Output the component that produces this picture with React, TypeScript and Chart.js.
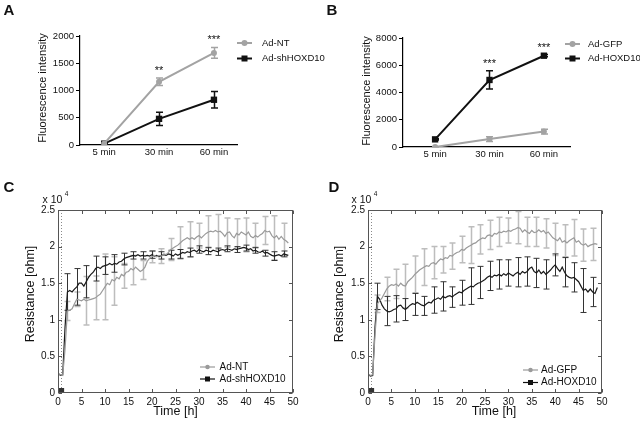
import React, { useEffect, useRef } from "react";
import { Chart, registerables } from "chart.js";

Chart.register(...registerables);

const FAMILY = "'Liberation Sans', Arial, Helvetica, sans-serif";
Chart.defaults.font.family = FAMILY;
Chart.defaults.color = "#111";

// ---------------- Panel A / B data ----------------
const CATEGORIES = ["5 min", "30 min", "60 min"];
const A_NT = [25, 1160, 1690];
const A_NT_ERR = [10, 70, 100];
const A_SH = [25, 480, 830];
const A_SH_ERR = [10, 120, 150];
const A_STARS = ["", "**", "***"];

const B_GFP = [0, 580, 1130];
const B_GFP_ERR = [20, 170, 170];
const B_HOX = [560, 4920, 6700];
const B_HOX_ERR = [40, 670, 80];
const B_STARS = ["", "***", "***"];

// ---------------- Panel C / D data (x 10^4 ohm) ----------------
const TIME_H = [
  0, 0.5, 1, 1.5, 2, 2.5, 3, 3.5, 4, 4.5,
  5, 5.5, 6, 6.5, 7, 7.5, 8, 8.5, 9, 9.5,
  10, 10.5, 11, 11.5, 12, 12.5, 13, 13.5, 14, 14.5,
  15, 15.5, 16, 16.5, 17, 17.5, 18, 18.5, 19, 19.5,
  20, 20.5, 21, 21.5, 22, 22.5, 23, 23.5, 24, 24.5,
  25, 25.5, 26, 26.5, 27, 27.5, 28, 28.5, 29, 29.5,
  30, 30.5, 31, 31.5, 32, 32.5, 33, 33.5, 34, 34.5,
  35, 35.5, 36, 36.5, 37, 37.5, 38, 38.5, 39, 39.5,
  40, 40.5, 41, 41.5, 42, 42.5, 43, 43.5, 44, 44.5,
  45, 45.5, 46, 46.5, 47, 47.5, 48, 48.5, 49,
];

const C_NT = [
  0.27, 0.25, 0.24, 0.6, 1.12, 1.13, 1.15, 1.22, 1.28, 1.27,
  1.26, 1.28, 1.26, 1.27, 1.28, 1.29, 1.3, 1.33, 1.35, 1.4,
  1.45, 1.5, 1.48, 1.55, 1.53, 1.58, 1.56, 1.62, 1.6, 1.65,
  1.66, 1.7, 1.68, 1.72, 1.69, 1.66, 1.68, 1.72, 1.8, 1.84,
  1.86, 1.88, 1.86, 1.88, 1.87, 1.9, 1.89, 1.92, 1.96, 1.98,
  2.0, 2.02, 2.05, 2.08, 2.1, 2.12, 2.1, 2.12, 2.1, 2.13,
  2.15, 2.12, 2.15, 2.18, 2.2, 2.21, 2.2, 2.22, 2.2, 2.21,
  2.18, 2.14, 2.19, 2.2, 2.15, 2.12, 2.18, 2.16, 2.2, 2.18,
  2.16, 2.2, 2.14, 2.12, 2.15, 2.13, 2.16, 2.18, 2.22, 2.2,
  2.21, 2.15, 2.12, 2.15, 2.1, 2.14, 2.1, 2.08, 2.05,
];

const C_SH = [
  0.27, 0.24, 0.25, 0.9, 1.38, 1.4, 1.38, 1.42, 1.45, 1.5,
  1.5, 1.46, 1.52, 1.58, 1.62, 1.65, 1.7, 1.72, 1.7, 1.73,
  1.74, 1.75, 1.77, 1.75, 1.77, 1.76, 1.79, 1.8, 1.83, 1.85,
  1.86, 1.87, 1.88, 1.87, 1.89, 1.87, 1.88, 1.87, 1.88, 1.87,
  1.89, 1.87, 1.88, 1.86, 1.88, 1.89, 1.88, 1.9, 1.89, 1.87,
  1.9, 1.88, 1.9, 1.92, 1.91, 1.93, 1.92, 1.94, 1.95, 1.93,
  1.96, 1.94, 1.93, 1.95, 1.94, 1.93, 1.95, 1.94, 1.93, 1.95,
  1.96, 1.95, 1.97, 1.96, 1.95, 1.97, 1.96, 1.97, 1.98, 1.99,
  1.98, 1.96, 1.97, 1.94, 1.95, 1.93, 1.92, 1.94, 1.91, 1.92,
  1.9, 1.88, 1.87, 1.88, 1.89, 1.87, 1.9, 1.89, 1.88,
];

const D_GFP = [
  0.26, 0.24, 0.25, 0.8, 1.22, 1.26, 1.3, 1.36, 1.42, 1.46,
  1.48, 1.47, 1.49, 1.46, 1.5, 1.47, 1.46, 1.52, 1.55, 1.58,
  1.62, 1.65, 1.68, 1.7, 1.72, 1.74, 1.73, 1.77, 1.78, 1.76,
  1.8, 1.83, 1.82, 1.85, 1.84, 1.88, 1.87, 1.9, 1.92, 1.93,
  1.96, 1.95, 1.98, 2.0, 2.02, 2.04, 2.05, 2.08, 2.1, 2.12,
  2.11, 2.15, 2.16, 2.14, 2.18, 2.17, 2.2, 2.19, 2.21, 2.2,
  2.22, 2.21, 2.23, 2.24, 2.26, 2.25, 2.2, 2.23, 2.2, 2.18,
  2.22, 2.19, 2.2, 2.23, 2.2, 2.22, 2.18, 2.2, 2.16, 2.12,
  2.1, 2.08, 2.12, 2.06, 2.08, 2.05, 2.08, 2.1, 2.12, 2.06,
  2.08, 2.04, 2.02, 2.04, 2.0, 2.02, 2.03, 2.04, 2.03,
];

const D_HOX = [
  0.26, 0.23, 0.24, 0.9, 1.32, 1.28, 1.2, 1.15, 1.12, 1.11,
  1.12, 1.14, 1.15, 1.19, 1.2, 1.16, 1.14, 1.17, 1.2, 1.22,
  1.21, 1.24, 1.22, 1.2, 1.19, 1.22, 1.24, 1.23, 1.27, 1.28,
  1.3, 1.28, 1.32, 1.3, 1.32, 1.33, 1.31, 1.34, 1.36, 1.38,
  1.37, 1.4, 1.42, 1.44, 1.46, 1.45, 1.48, 1.5, 1.51, 1.53,
  1.55, 1.58, 1.6, 1.58, 1.61, 1.6, 1.62, 1.6, 1.63, 1.61,
  1.64, 1.62, 1.6, 1.63, 1.65, 1.62, 1.66, 1.64, 1.66, 1.7,
  1.72, 1.66, 1.64, 1.68, 1.63, 1.66, 1.62, 1.65, 1.68, 1.72,
  1.75, 1.7, 1.66, 1.72, 1.65, 1.6, 1.58, 1.57, 1.58, 1.55,
  1.52, 1.46, 1.4, 1.42, 1.38, 1.42, 1.38, 1.36, 1.44,
];

const ERR_TIME_H = [2, 4, 6, 8, 10, 12, 14, 16, 18, 20, 22, 24, 26, 28, 30, 32, 34, 36, 38, 40, 42, 44, 46, 48];
const C_NT_ERR = [0.13, 0.1, 0.33, 0.3, 0.45, 0.33, 0.17, 0.2, 0.13, 0.08, 0.1, 0.15, 0.22, 0.24, 0.17, 0.22, 0.24, 0.2, 0.2, 0.23, 0.17, 0.19, 0.3, 0.22];
const C_SH_ERR = [0.25, 0.25, 0.22, 0.17, 0.12, 0.12, 0.08, 0.05, 0.05, 0.05, 0.05, 0.06, 0.06, 0.06, 0.05, 0.05, 0.05, 0.04, 0.04, 0.04, 0.04, 0.04, 0.06, 0.04];
const D_GFP_ERR = [0.12, 0.16, 0.2, 0.3, 0.25, 0.25, 0.22, 0.18, 0.18, 0.18, 0.25, 0.2, 0.2, 0.2, 0.17, 0.22, 0.2, 0.2, 0.2, 0.22, 0.22, 0.25, 0.22, 0.22];
const D_HOX_ERR = [0.18, 0.2, 0.18, 0.15, 0.15, 0.13, 0.18, 0.2, 0.14, 0.17, 0.25, 0.22, 0.2, 0.2, 0.18, 0.2, 0.2, 0.2, 0.2, 0.15, 0.2, 0.2, 0.3, 0.2];

const START_MARK = { x: 0.55, y: 0.02 };
const START_LINE_H = 0.6;

// ---------------- helpers ----------------
const catPoints = (vals: number[]) => vals.map((v, i) => ({ x: i, y: v }));
const timePoints = (vals: number[]) => vals.map((v, i) => ({ x: TIME_H[i], y: v }));
const f = (size: number, bold = false) => `${bold ? "bold " : ""}${size}px ${FAMILY}`;

const errorBarPlugin = {
  id: "errorBars",
  beforeDatasetsDraw(chart: any) {
    const { ctx } = chart;
    const xs = chart.scales.x;
    const ys = chart.scales.y;
    chart.data.datasets.forEach((ds: any) => {
      const eb = ds.errorBars;
      if (!eb) return;
      ctx.save();
      ctx.strokeStyle = eb.color;
      ctx.lineWidth = eb.width;
      eb.at.forEach((xv: number, k: number) => {
        const p = ds.data.find((d: any) => d.x === xv);
        if (!p) return;
        const e = eb.err[k];
        const px = Math.round(xs.getPixelForValue(xv)) + 0.5;
        const t = ys.getPixelForValue(p.y + e);
        const b = ys.getPixelForValue(Math.max(p.y - e, ys.min));
        ctx.beginPath();
        ctx.moveTo(px, t);
        ctx.lineTo(px, b);
        ctx.moveTo(px - eb.cap, t);
        ctx.lineTo(px + eb.cap, t);
        ctx.moveTo(px - eb.cap, b);
        ctx.lineTo(px + eb.cap, b);
        ctx.stroke();
      });
      ctx.restore();
    });
  },
};

type TextItem = { text: string; x: number; y: number; font: string; rotate?: boolean; align?: CanvasTextAlign };
type LegendItem = { label: string; color: string; marker: "circle" | "square"; y: number; size: number; lw: number };
type Decor = {
  texts: TextItem[];
  legend: { items: LegendItem[]; x0: number; x1: number; textX: number; font: string };
  box?: boolean;
  dottedAt?: number;
  stars?: { labels: string[]; font: string; gap: number };
};

function decorPlugin(cfg: Decor) {
  return {
    id: "decor",
    beforeDatasetsDraw(chart: any) {
      if (cfg.dottedAt === undefined) return;
      const { ctx, chartArea: ca } = chart;
      const px = Math.round(chart.scales.x.getPixelForValue(cfg.dottedAt)) + 0.5;
      ctx.save();
      ctx.strokeStyle = "#8a8a8a";
      ctx.lineWidth = 1;
      ctx.setLineDash([1, 2]);
      ctx.beginPath();
      ctx.moveTo(px, ca.top);
      ctx.lineTo(px, ca.bottom);
      ctx.stroke();
      ctx.restore();
    },
    afterDraw(chart: any) {
      const { ctx, chartArea: ca } = chart;
      ctx.save();
      if (cfg.box) {
        const l = Math.round(ca.left) + 0.5;
        const r = Math.round(ca.right) - 0.5;
        const t = Math.round(ca.top) + 0.5;
        const b = Math.round(ca.bottom) - 0.5;
        ctx.strokeStyle = "#555";
        ctx.lineWidth = 1;
        ctx.strokeRect(l, t, r - l, b - t);
        const tl = 3.5;
        ctx.beginPath();
        chart.scales.x.ticks.forEach((tk: any) => {
          const px = Math.round(chart.scales.x.getPixelForValue(tk.value)) + 0.5;
          ctx.moveTo(px, b);
          ctx.lineTo(px, b - tl);
          ctx.moveTo(px, t);
          ctx.lineTo(px, t + tl);
        });
        chart.scales.y.ticks.forEach((tk: any) => {
          const py = Math.round(chart.scales.y.getPixelForValue(tk.value)) + 0.5;
          ctx.moveTo(l, py);
          ctx.lineTo(l + tl, py);
          ctx.moveTo(r, py);
          ctx.lineTo(r - tl, py);
        });
        ctx.stroke();
      }
      // stars
      if (cfg.stars) {
        const xs = chart.scales.x;
        const ys = chart.scales.y;
        ctx.font = cfg.stars.font;
        ctx.fillStyle = "#111";
        ctx.textAlign = "center";
        ctx.textBaseline = "alphabetic";
        cfg.stars.labels.forEach((s, i) => {
          if (!s) return;
          let top = -Infinity;
          chart.data.datasets.forEach((ds: any) => {
            const eb = ds.errorBars;
            const p = ds.data.find((d: any) => d.x === i);
            if (!p) return;
            const k = eb ? eb.at.indexOf(i) : -1;
            top = Math.max(top, p.y + (k >= 0 ? eb.err[k] : 0));
          });
          ctx.fillText(s, xs.getPixelForValue(i), ys.getPixelForValue(top) - cfg.stars!.gap);
        });
      }
      // texts
      cfg.texts.forEach((t) => {
        ctx.save();
        ctx.font = t.font;
        ctx.fillStyle = "#111";
        ctx.textAlign = t.align || "center";
        ctx.textBaseline = "middle";
        if (t.rotate) {
          ctx.translate(t.x, t.y);
          ctx.rotate(-Math.PI / 2);
          ctx.fillText(t.text, 0, 0);
        } else {
          ctx.fillText(t.text, t.x, t.y);
        }
        ctx.restore();
      });
      // legend
      const lg = cfg.legend;
      lg.items.forEach((it) => {
        ctx.strokeStyle = it.color;
        ctx.fillStyle = it.color;
        ctx.lineWidth = it.lw;
        ctx.beginPath();
        ctx.moveTo(lg.x0, it.y);
        ctx.lineTo(lg.x1, it.y);
        ctx.stroke();
        const cx = (lg.x0 + lg.x1) / 2;
        ctx.beginPath();
        if (it.marker === "circle") {
          ctx.arc(cx, it.y, it.size / 2, 0, Math.PI * 2);
        } else {
          ctx.rect(cx - it.size / 2, it.y - it.size / 2, it.size, it.size);
        }
        ctx.fill();
        ctx.font = lg.font;
        ctx.fillStyle = "#111";
        ctx.textAlign = "left";
        ctx.textBaseline = "middle";
        ctx.fillText(it.label, lg.textX, it.y);
      });
      ctx.restore();
    },
  };
}

const GRAY_AB = "#a3a3a3";
const GRAY_LINE = "#9a9a9a";
const GRAY_ERR = "#bdbdbd";
const BLACK = "#111";

function categoryChart(
  canvas: HTMLCanvasElement,
  o: {
    gray: number[]; grayErr: number[]; grayLabel: string;
    black: number[]; blackErr: number[]; blackLabel: string;
    yMax: number; yStep: number; xMin: number; xMax: number;
    area: { left: number; top: number; right: number; bottom: number; w: number; h: number };
    decor: Decor;
  }
) {
  const at = CATEGORIES.map((_, i) => i);
  return new Chart(canvas, {
    type: "line",
    data: {
      datasets: [
        {
          label: o.grayLabel,
          data: catPoints(o.gray),
          borderColor: GRAY_AB,
          backgroundColor: GRAY_AB,
          borderWidth: 2,
          pointStyle: "circle",
          pointRadius: 3,
          pointBorderWidth: 0,
          errorBars: { at, err: o.grayErr, color: GRAY_AB, width: 1.5, cap: 3.5 },
        } as any,
        {
          label: o.blackLabel,
          data: catPoints(o.black),
          borderColor: BLACK,
          backgroundColor: BLACK,
          borderWidth: 2,
          pointStyle: "rect",
          pointRadius: 4.5,
          pointBorderWidth: 0,
          errorBars: { at, err: o.blackErr, color: BLACK, width: 1.5, cap: 3.5 },
        } as any,
      ],
    },
    options: {
      responsive: false,
      animation: false,
      events: [],
      layout: { padding: { top: o.area.top, right: o.area.w - o.area.right, bottom: 0, left: 0 } },
      plugins: { legend: { display: false }, tooltip: { enabled: false } },
      scales: {
        x: {
          type: "linear",
          min: o.xMin,
          max: o.xMax,
          afterBuildTicks: (s: any) => {
            s.ticks = CATEGORIES.map((_, i) => ({ value: i }));
          },
          ticks: {
            callback: (v: any) => CATEGORIES[v] ?? "",
            font: { size: 9.5 },
            color: "#111",
            padding: 2,
            autoSkip: false,
            maxRotation: 0,
          },
          grid: { display: false, drawTicks: false },
          border: { display: true, color: "#000", width: 1.2 },
          afterFit: (s: any) => {
            s.height = o.area.h - o.area.bottom;
          },
        },
        y: {
          min: 0,
          max: o.yMax,
          ticks: { stepSize: o.yStep, font: { size: 9.5 }, color: "#111", padding: 2, callback: (v: any) => String(v) },
          grid: { drawOnChartArea: false, drawTicks: true, tickLength: 4, color: "#000", lineWidth: 1 },
          border: { display: true, color: "#000", width: 1.2 },
          afterFit: (s: any) => {
            s.width = o.area.left;
          },
        },
      },
    } as any,
    plugins: [errorBarPlugin, decorPlugin(o.decor)] as any,
  });
}

function timeChart(
  canvas: HTMLCanvasElement,
  o: {
    gray: number[]; grayErr: number[]; black: number[]; blackErr: number[];
    area: { left: number; top: number; right: number; bottom: number; w: number; h: number };
    decor: Decor;
  }
) {
  return new Chart(canvas, {
    type: "line",
    data: {
      datasets: [
        {
          data: timePoints(o.gray),
          borderColor: GRAY_LINE,
          borderWidth: 1.2,
          pointRadius: 0,
          errorBars: { at: ERR_TIME_H, err: o.grayErr, color: GRAY_ERR, width: 1.5, cap: 3 },
        } as any,
        {
          data: timePoints(o.black),
          borderColor: "#1a1a1a",
          borderWidth: 1.2,
          pointRadius: 0,
          errorBars: { at: ERR_TIME_H, err: o.blackErr, color: "#333", width: 1, cap: 3 },
        } as any,
        {
          data: [START_MARK],
          showLine: false,
          pointStyle: "rect",
          pointRadius: 5,
          pointBorderWidth: 0,
          backgroundColor: "#333",
          borderColor: "#333",
        } as any,
      ],
    },
    options: {
      responsive: false,
      animation: false,
      events: [],
      layout: { padding: { top: o.area.top, right: o.area.w - o.area.right, bottom: 0, left: 0 } },
      plugins: { legend: { display: false }, tooltip: { enabled: false } },
      scales: {
        x: {
          type: "linear",
          min: 0,
          max: 50,
          ticks: { stepSize: 5, font: { size: 10 }, color: "#111", padding: 3, callback: (v: any) => String(v), maxRotation: 0 },
          grid: { display: false, drawTicks: false },
          border: { display: false },
          afterFit: (s: any) => {
            s.height = o.area.h - o.area.bottom;
          },
        },
        y: {
          min: 0,
          max: 2.5,
          ticks: { stepSize: 0.5, font: { size: 10 }, color: "#111", padding: 3, callback: (v: any) => String(v) },
          grid: { display: false, drawTicks: false },
          border: { display: false },
          afterFit: (s: any) => {
            s.width = o.area.left;
          },
        },
      },
    } as any,
    plugins: [errorBarPlugin, decorPlugin(o.decor)] as any,
  });
}

function Panel({ left, top, width, height, make }: { left: number; top: number; width: number; height: number; make: (c: HTMLCanvasElement) => Chart }) {
  const ref = useRef<HTMLCanvasElement>(null);
  useEffect(() => {
    const chart = make(ref.current!);
    return () => chart.destroy();
  }, []);
  return (
    <canvas
      ref={ref}
      width={width}
      height={height}
      style={{ position: "absolute", left, top, width, height, display: "block" }}
    />
  );
}

export default function App() {
  return (
    <div style={{ position: "absolute", left: 0, top: 0, width: 640, height: 425, background: "#fff", overflow: "hidden" }}>
      <Panel
        left={0}
        top={0}
        width={330}
        height={160}
        make={(c) =>
          categoryChart(c, {
            gray: A_NT, grayErr: A_NT_ERR, grayLabel: "Ad-NT",
            black: A_SH, blackErr: A_SH_ERR, blackLabel: "Ad-shHOXD10",
            yMax: 2000, yStep: 500, xMin: -0.44, xMax: 2.42,
            area: { left: 80, top: 36, right: 237, bottom: 145, w: 330, h: 160 },
            decor: {
              texts: [
                { text: "A", x: 9, y: 11, font: f(15, true) },
                { text: "Fluorescence intensity", x: 43, y: 88, font: f(11), rotate: true },
              ],
              legend: {
                x0: 237, x1: 252, textX: 262, font: f(9.5),
                items: [
                  { label: "Ad-NT", color: GRAY_AB, marker: "circle", y: 43, size: 6, lw: 2 },
                  { label: "Ad-shHOXD10", color: BLACK, marker: "square", y: 58.5, size: 6, lw: 2 },
                ],
              },
              stars: { labels: A_STARS, font: f(11), gap: 4 },
            },
          })
        }
      />
      <Panel
        left={320}
        top={0}
        width={320}
        height={160}
        make={(c) =>
          categoryChart(c, {
            gray: B_GFP, grayErr: B_GFP_ERR, grayLabel: "Ad-GFP",
            black: B_HOX, blackErr: B_HOX_ERR, blackLabel: "Ad-HOXD10",
            yMax: 8000, yStep: 2000, xMin: -0.59, xMax: 2.48,
            area: { left: 83, top: 38, right: 250, bottom: 147, w: 320, h: 160 },
            decor: {
              texts: [
                { text: "B", x: 12, y: 11, font: f(15, true) },
                { text: "Fluorescence intensity", x: 46.5, y: 91, font: f(11), rotate: true },
              ],
              legend: {
                x0: 245, x1: 260, textX: 268, font: f(9.5),
                items: [
                  { label: "Ad-GFP", color: GRAY_AB, marker: "circle", y: 44, size: 6, lw: 2 },
                  { label: "Ad-HOXD10", color: BLACK, marker: "square", y: 58.5, size: 6, lw: 2 },
                ],
              },
              stars: { labels: B_STARS, font: f(11), gap: 4 },
            },
          })
        }
      />
      <Panel
        left={0}
        top={160}
        width={320}
        height={265}
        make={(c) =>
          timeChart(c, {
            gray: C_NT, grayErr: C_NT_ERR, black: C_SH, blackErr: C_SH_ERR,
            area: { left: 58, top: 50, right: 293, bottom: 233, w: 320, h: 265 },
            decor: {
              box: true,
              dottedAt: START_LINE_H,
              texts: [
                { text: "C", x: 9, y: 28, font: f(15, true) },
                { text: "x 10", x: 42.5, y: 40, font: f(10.5), align: "left" },
                { text: "4", x: 66.5, y: 34, font: f(6.5) },
                { text: "Resistance [ohm]", x: 31, y: 134, font: f(12.5), rotate: true },
                { text: "Time [h]", x: 175.5, y: 252, font: f(12.5) },
              ],
              legend: {
                x0: 200, x1: 215, textX: 219.5, font: f(10),
                items: [
                  { label: "Ad-NT", color: GRAY_LINE, marker: "circle", y: 207, size: 4.5, lw: 1.2 },
                  { label: "Ad-shHOXD10", color: BLACK, marker: "square", y: 219, size: 5, lw: 1.2 },
                ],
              },
            },
          })
        }
      />
      <Panel
        left={320}
        top={160}
        width={320}
        height={265}
        make={(c) =>
          timeChart(c, {
            gray: D_GFP, grayErr: D_GFP_ERR, black: D_HOX, blackErr: D_HOX_ERR,
            area: { left: 48, top: 50, right: 282, bottom: 233, w: 320, h: 265 },
            decor: {
              box: true,
              dottedAt: START_LINE_H,
              texts: [
                { text: "D", x: 14, y: 28, font: f(15, true) },
                { text: "x 10", x: 31.5, y: 40, font: f(10.5), align: "left" },
                { text: "4", x: 55.5, y: 34, font: f(6.5) },
                { text: "Resistance [ohm]", x: 20, y: 134, font: f(12.5), rotate: true },
                { text: "Time [h]", x: 174, y: 252, font: f(12.5) },
              ],
              legend: {
                x0: 203, x1: 218, textX: 221, font: f(10),
                items: [
                  { label: "Ad-GFP", color: GRAY_LINE, marker: "circle", y: 210, size: 4.5, lw: 1.2 },
                  { label: "Ad-HOXD10", color: BLACK, marker: "square", y: 222.5, size: 5, lw: 1.2 },
                ],
              },
            },
          })
        }
      />
    </div>
  );
}
